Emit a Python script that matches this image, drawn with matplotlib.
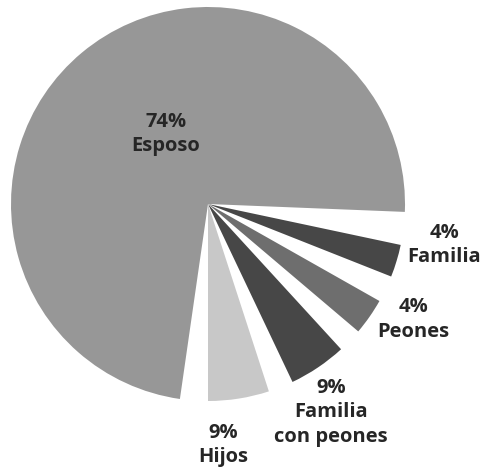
import matplotlib
matplotlib.use("Agg")
import matplotlib.pyplot as plt

categories = ["Esposo", "Familia", "Peones", "Familia\ncon peones", "Hijos"]
percentages = [74, 4, 4, 9, 9]
# angular extent (degrees) of each slice as drawn in the picture
slice_deg = [264.1, 9.6, 10.8, 17.1, 18.0]
# white gap following each slice (clockwise), degrees, as drawn
gap_deg = [9.7, 7.9, 7.2, 7.4, 8.2]
colors = ["#979797", "#474747", "#6e6e6e", "#474747", "#c8c8c8"]
# label anchor positions (in pie-radius units)
label_pos = [(-0.213, 0.355), (1.198, -0.208), (1.041, -0.586),
             (0.624, -1.058), (0.076, -1.223)]

plt.rcParams['font.family'] = ['Open Sans', 'DejaVu Sans']

fig = plt.figure(figsize=(4.8, 4.67), dpi=100)
ax = fig.add_axes([0, 0, 1, 1])

vals = []
cols = []
for s, g, c in zip(slice_deg, gap_deg, colors):
    vals += [s, g]
    cols += [c, "white"]

wedges, _ = ax.pie(vals, colors=cols, startangle=261.8, counterclock=False,
                   radius=1.0, center=(0, 0), normalize=True,
                   wedgeprops=dict(linewidth=0))
for i, w in enumerate(wedges):
    if i % 2 == 1:
        w.set_visible(False)

for cat, p, (x, y) in zip(categories, percentages, label_pos):
    ax.text(x, y, f"{p}%\n{cat}", ha='center', va='center', multialignment='center',
            fontsize=14.5, fontweight='bold', color='#262626', linespacing=1.28)

ax.set_aspect('auto')
ax.set_xlim(-208 / 197, (480 - 208) / 197)
ax.set_ylim(-263 / 197, 204 / 197)
ax.axis('off')

fig.savefig("out.png", dpi=100, facecolor='white')
